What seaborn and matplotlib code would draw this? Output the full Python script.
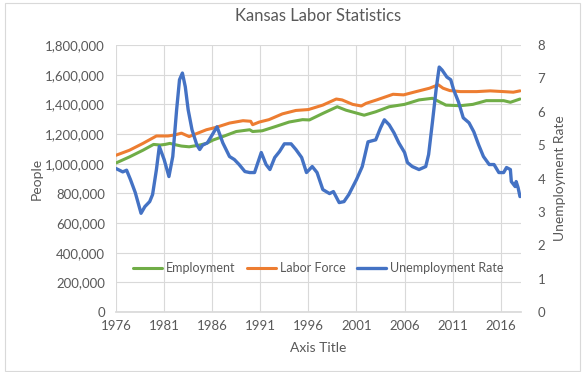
import numpy as np
import pandas as pd
import matplotlib
matplotlib.use("Agg")
import matplotlib.pyplot as plt
import seaborn as sns
from matplotlib.ticker import FuncFormatter
from matplotlib.lines import Line2D
from matplotlib.patches import Rectangle

# values (decimal years)
labor_years = [1976.0, 1977.4, 1978.8, 1980.2, 1981.4, 1982.1, 1982.8, 1983.6, 1984.5,
               1985.4, 1986.4, 1987.8, 1989.2, 1990.0, 1990.2, 1990.9, 1991.9, 1993.3,
               1994.7, 1996.0, 1997.5, 1998.9, 1999.5, 2000.6, 2001.5, 2002.0, 2003.1,
               2004.8, 2005.9, 2007.2, 2008.6, 2009.5, 2010.0, 2010.7, 2011.8, 2013.5,
               2014.9, 2016.3, 2017.3, 2018.0]
labor_force = [1057, 1091, 1137, 1187, 1187, 1194, 1206, 1183, 1206,
               1229, 1245, 1274, 1290, 1286, 1263, 1281, 1297, 1336,
               1359, 1365, 1395, 1436, 1430, 1400, 1389, 1407, 1430,
               1468, 1464, 1486, 1509, 1532, 1509, 1493, 1486, 1486,
               1491, 1486, 1482, 1491]

emp_years = [1976.0, 1977.4, 1978.8, 1979.9, 1980.6, 1981.1, 1981.6, 1982.3, 1982.8,
             1983.6, 1984.7, 1985.4, 1986.1, 1987.1, 1988.5, 1989.9, 1990.2, 1991.2,
             1992.6, 1994.0, 1995.4, 1996.1, 1997.5, 1999.0, 1999.9, 2001.8, 2003.0,
             2004.4, 2006.0, 2007.5, 2008.9, 2009.6, 2010.3, 2011.8, 2013.1, 2014.5,
             2016.3, 2017.0, 2018.0]
employment = [1005, 1046, 1091, 1130, 1126, 1130, 1137, 1126, 1119,
              1114, 1126, 1137, 1160, 1183, 1217, 1229, 1217, 1222,
              1251, 1281, 1297, 1295, 1339, 1384, 1361, 1327, 1350,
              1384, 1400, 1430, 1441, 1418, 1395, 1391, 1400, 1425,
              1425, 1414, 1436]

rate_years = [1976.0, 1976.7, 1977.1, 1977.5, 1978.0, 1978.6, 1979.0, 1979.5, 1979.8,
              1980.2, 1980.5, 1981.0, 1981.5, 1981.9, 1982.3, 1982.6, 1982.9, 1983.2,
              1983.5, 1983.9, 1984.4, 1984.7, 1985.0, 1985.5, 1986.0, 1986.5, 1987.1,
              1987.8, 1988.3, 1988.8, 1989.4, 1989.9, 1990.4, 1991.1, 1991.6, 1992.0,
              1992.5, 1993.0, 1993.5, 1994.2, 1994.7, 1995.3, 1995.8, 1996.4, 1996.9,
              1997.5, 1998.2, 1998.6, 1999.2, 1999.7, 2000.2, 2001.0, 2001.6, 2002.2,
              2003.0, 2003.5, 2003.9, 2004.4, 2004.9, 2005.4, 2006.0, 2006.3, 2006.8,
              2007.5, 2008.2, 2008.5, 2008.9, 2009.3, 2009.6, 2009.9, 2010.4, 2010.8,
              2011.1, 2011.6, 2012.1, 2012.7, 2013.2, 2013.7, 2014.2, 2014.8, 2015.3,
              2015.8, 2016.3, 2016.6, 2017.0, 2017.1, 2017.5, 2017.6, 2017.8, 2018.0]
unemployment_rate = [4.3, 4.2, 4.25, 3.97, 3.58, 2.96, 3.16, 3.31, 3.52,
                     4.27, 4.96, 4.57, 4.06, 4.66, 6.06, 6.96, 7.16, 6.75,
                     6.06, 5.46, 5.01, 4.87, 5.0, 5.07, 5.31, 5.55, 5.07,
                     4.66, 4.57, 4.42, 4.21, 4.18, 4.18, 4.78, 4.42, 4.27,
                     4.63, 4.81, 5.04, 5.04, 4.87, 4.63, 4.18, 4.36, 4.18,
                     3.67, 3.55, 3.61, 3.28, 3.31, 3.52, 3.97, 4.36, 5.10,
                     5.16, 5.52, 5.76, 5.61, 5.37, 5.07, 4.78, 4.48, 4.36,
                     4.27, 4.36, 4.72, 5.70, 6.72, 7.34, 7.25, 7.04, 6.96,
                     6.66, 6.30, 5.82, 5.67, 5.40, 5.01, 4.66, 4.42, 4.42,
                     4.18, 4.18, 4.33, 4.27, 3.91, 3.76, 3.91, 3.73, 3.46]

year_ticks = [1976, 1981, 1986, 1991, 1996, 2001, 2006, 2011, 2016]

GREEN, ORANGE, BLUE = '#70AD47', '#ED7D31', '#4472C4'
GREY = '#595959'

lf = pd.DataFrame({'year': labor_years, 'people': np.array(labor_force) * 1000})
em = pd.DataFrame({'year': emp_years, 'people': np.array(employment) * 1000})
ur = pd.DataFrame({'year': rate_years, 'rate': unemployment_rate})

sns.set_theme(style='white')
plt.rcParams['font.family'] = ['Lato', 'DejaVu Sans']

fig = plt.figure(figsize=(5.86, 3.72), dpi=100)
ax = fig.add_axes([0.198, 0.161, 0.691, 0.718])
ax2 = ax.twinx()

sns.lineplot(data=em, x='year', y='people', ax=ax, color=GREEN, linewidth=2.2)
sns.lineplot(data=lf, x='year', y='people', ax=ax, color=ORANGE, linewidth=2.2)
sns.lineplot(data=ur, x='year', y='rate', ax=ax2, color=BLUE, linewidth=2.4)

ax.set_xlim(1976, 2018.1)
ax.set_ylim(0, 1800000)
ax.set_yticks(np.arange(0, 1800001, 200000))
ax.yaxis.set_major_formatter(FuncFormatter(lambda v, p: f'{int(v):,}'))
ax.set_xticks(year_ticks)
ax2.set_ylim(0, 8)
ax2.set_yticks(range(0, 9))

ax.grid(True, color='#D9D9D9', linewidth=0.8)
ax2.grid(False)
for a in (ax, ax2):
    for s in a.spines.values():
        s.set_visible(False)
    a.tick_params(length=0, colors=GREY, labelsize=9.5)
ax.spines['bottom'].set_visible(True)
ax.spines['bottom'].set_color('#D9D9D9')
ax.tick_params(axis='y', pad=8)
ax.tick_params(axis='x', pad=6)
ax2.tick_params(axis='y', pad=12)

ax.set_xlabel('Axis Title', color=GREY, fontsize=10, labelpad=7)
ax.set_ylabel('People', color=GREY, fontsize=10, labelpad=2)
ax2.set_ylabel('Unemployment Rate', color=GREY, fontsize=10, labelpad=6)
ax.set_title('Kansas Labor Statistics', color=GREY, fontsize=12, pad=17)

handles = [Line2D([], [], color=GREEN, linewidth=2.2),
           Line2D([], [], color=ORANGE, linewidth=2.2),
           Line2D([], [], color=BLUE, linewidth=2.4)]
ax2.legend(handles, ['Employment', 'Labor Force', 'Unemployment Rate'],
           loc='center', bbox_to_anchor=(0.5, 0.165), ncol=3, frameon=False,
           fontsize=9, labelcolor=GREY, handlelength=2.3, columnspacing=0.9,
           handletextpad=0.35)

fig.patches.append(Rectangle((0.008, 0.003), 0.982, 0.99, transform=fig.transFigure,
                             fill=False, edgecolor='#D9D9D9', linewidth=0.8))

fig.savefig('out.png', dpi=100)
